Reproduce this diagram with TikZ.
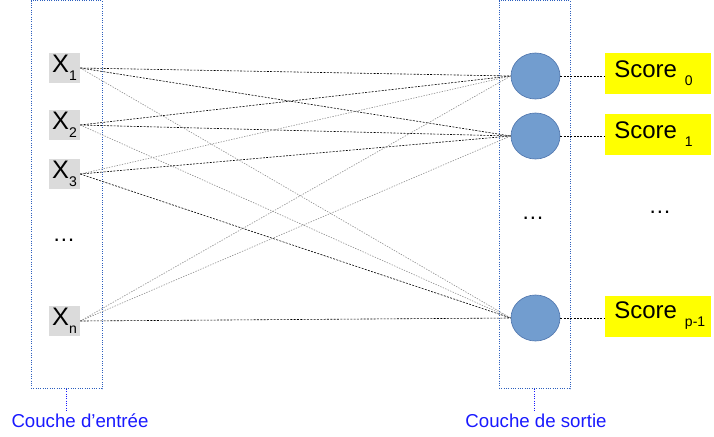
\documentclass[tikz,border=0pt]{standalone}
\usepackage{fontspec}
\setmainfont{Liberation Sans}
\usetikzlibrary{shapes.geometric}
\usetikzlibrary{positioning}

\definecolor{layerblue}{RGB}{45,95,190}
\definecolor{labelblue}{RGB}{25,25,255}
\definecolor{neuronfill}{RGB}{114,157,207}
\definecolor{neurondraw}{RGB}{82,120,175}
\definecolor{inputgray}{RGB}{219,219,219}
\definecolor{scoreyellow}{RGB}{255,255,0}

\newcommand{\lowsub}[1]{\raisebox{-6pt}{\fontsize{10.5}{10.5}\selectfont #1}}

\tikzset{
    layer/.style={draw=layerblue, densely dotted, line width=0.75pt, minimum width=53.25pt, minimum height=291pt, inner sep=0pt},
    layerlabel/.style={text=labelblue, font=\fontsize{14}{14}\selectfont, inner sep=0pt, anchor=base},
    tolabel/.style={draw=labelblue, densely dotted, line width=0.75pt},
    inputbox/.style={fill=inputgray, minimum width=23.25pt, minimum height=22.5pt, inner sep=0pt, font=\fontsize{19}{19}\selectfont},
    neuron/.style={ellipse, fill=neuronfill, draw=neurondraw, line width=0.5pt, minimum width=36.75pt, minimum height=34.5pt, inner sep=0pt},
    scorebox/.style={fill=scoreyellow, minimum height=30.75pt, text width=66pt, inner xsep=6.75pt, align=left, anchor=west, font=\fontsize{18}{18}\selectfont},
    dots/.style={font=\fontsize{17}{17}\selectfont},
    wdark/.style={draw=black, dash pattern=on 1.5pt off 1pt, line width=0.45pt},
    wlight/.style={draw=black!45, dash pattern=on 1pt off 1pt, line width=0.45pt},
}

\begin{document}
\begin{tikzpicture}[x=0.75pt, y=-0.75pt]
    \useasboundingbox (0,0) rectangle (714,436);

    % layers
    \node[layer] (inlayer) at (66.5,194.5) {};
    \node[layer] (outlayer) at (534.5,194.5) {};
    \node[layerlabel] (inlabel) at (80,427) {Couche d’entrée};
    \node[layerlabel] (outlabel) at (536,427) {Couche de sortie};
    \draw[tolabel] (inlayer.south) -- ++(0,22);
    \draw[tolabel] (outlayer.south) -- ++(0,22);

    % inputs
    \node[inputbox] (x1) at (64.5,68) {X\lowsub{1}};
    \node[inputbox] (x2) at (64.5,125) {X\lowsub{2}};
    \node[inputbox] (x3) at (64.5,174) {X\lowsub{3}};
    \node[dots] (xdots) at (64,240) {\dots};
    \node[inputbox] (xn) at (64.5,321) {X\lowsub{n}};

    % outputs
    \node[neuron] (o0) at (535.5,76) {};
    \node[neuron] (o1) at (535.5,136) {};
    \node[dots] (odots) at (533,218) {\dots};
    \node[neuron] (op) at (535.5,318) {};

    \node[scorebox] (s0) at (605,73.5) {\mbox{Score \lowsub{0}}};
    \node[scorebox] (s1) at (605,134) {\mbox{Score \lowsub{1}}};
    \node[dots] (sdots) at (660,212) {\dots};
    \node[scorebox] (sp) at (605,316) {\mbox{Score \lowsub{p-1}}};

    % weights
    \foreach \i/\j/\w in {x1/o0/wdark, x1/o1/wdark, x1/op/wlight,
                          x2/o0/wdark, x2/o1/wdark, x2/op/wlight,
                          x3/o0/wlight, x3/o1/wdark, x3/op/wdark,
                          xn/o0/wlight, xn/o1/wlight, xn/op/wdark}{
        \draw[\w] (\i.east) -- (\j.west);
    }
    \foreach \j/\s in {o0/s0, o1/s1, op/sp}{
        \draw[wdark] (\j.east) -- (\j.east -| \s.west);
    }
\end{tikzpicture}
\end{document}
